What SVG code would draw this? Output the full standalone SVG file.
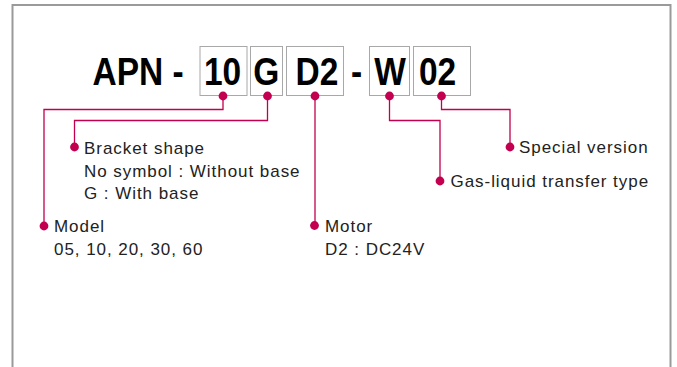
<svg xmlns="http://www.w3.org/2000/svg" width="677" height="367" viewBox="0 0 677 367">
<style>
.frame{fill:#fff;stroke:#9a9a9a;stroke-width:2}
.box{fill:#fff;stroke:#a8a8a8;stroke-width:1}
.big{font-family:"Liberation Sans",Arial,sans-serif;font-weight:bold;font-size:38.5px;fill:#000}
.mid{text-anchor:middle}
.lbl{font-family:"Liberation Sans",Arial,sans-serif;font-size:17px;letter-spacing:0.95px;fill:#222}
.ln{fill:none;stroke:#c2004f;stroke-width:1.3}
.dot{fill:#c2004f}
</style>
<rect class="frame" x="12.5" y="5" width="658" height="380"/>
<g id="code">
<text class="big" transform="translate(92.5,84.5) scale(0.87,1)" x="0" y="0">APN</text>
<text class="big mid" transform="translate(178,84.5) scale(0.87,1)" x="0" y="0">-</text>
</g>
<g id="box-10"><rect class="box" x="200" y="46.5" width="47" height="49"/><text class="big mid" transform="translate(222.5,84.5) scale(0.87,1)" x="0" y="0">10</text></g>
<g id="box-G"><rect class="box" x="250.5" y="46.5" width="32" height="49"/><text class="big mid" transform="translate(266.3,84.5) scale(0.87,1)" x="0" y="0">G</text></g>
<g id="box-D2"><rect class="box" x="286.5" y="46.5" width="57" height="49"/><text class="big mid" transform="translate(317,84.5) scale(0.87,1)" x="0" y="0">D2</text></g>
<g id="dash2"><text class="big mid" transform="translate(356.5,84.5) scale(0.87,1)" x="0" y="0">-</text></g>
<g id="box-W"><rect class="box" x="369.5" y="46.5" width="40" height="49"/><text class="big mid" transform="translate(390,84.5) scale(0.87,1)" x="0" y="0">W</text></g>
<g id="box-02"><rect class="box" x="413.5" y="46.5" width="57" height="49"/><text class="big mid" transform="translate(437.5,84.5) scale(0.87,1)" x="0" y="0">02</text></g>
<g id="connectors">
<polyline class="ln" points="223,96 223,109.5 44,109.5 44,226"/>
<polyline class="ln" points="267.5,96 267.5,120.5 74.5,120.5 74.5,147"/>
<polyline class="ln" points="315,96 315,225.5"/>
<polyline class="ln" points="389.5,96 389.5,120.5 440,120.5 440,181"/>
<polyline class="ln" points="441.5,96 441.5,109.5 510,109.5 510,147"/>
<circle class="dot" cx="223" cy="96" r="4.4"/>
<circle class="dot" cx="267.5" cy="96" r="4.4"/>
<circle class="dot" cx="315" cy="96" r="4.4"/>
<circle class="dot" cx="389.5" cy="96" r="4.4"/>
<circle class="dot" cx="441.5" cy="96" r="4.4"/>
<circle class="dot" cx="44" cy="226" r="4.4"/>
<circle class="dot" cx="74.5" cy="147" r="4.4"/>
<circle class="dot" cx="314.5" cy="225.5" r="4.4"/>
<circle class="dot" cx="440" cy="181" r="4.4"/>
<circle class="dot" cx="510" cy="147" r="4.4"/>
</g>
<g id="bracket"><text class="lbl" x="84" y="154">Bracket shape</text><text class="lbl" x="84" y="176.5">No symbol : Without base</text><text class="lbl" x="84" y="199">G : With base</text></g>
<g id="model"><text class="lbl" x="54" y="232">Model</text><text class="lbl" x="54" y="254.5">05, 10, 20, 30, 60</text></g>
<g id="motor"><text class="lbl" x="325" y="231.5">Motor</text><text class="lbl" x="325" y="254.5">D2 : DC24V</text></g>
<g id="gas"><text class="lbl" x="450.5" y="187">Gas-liquid transfer type</text></g>
<g id="special"><text class="lbl" x="519" y="153">Special version</text></g>
</svg>
